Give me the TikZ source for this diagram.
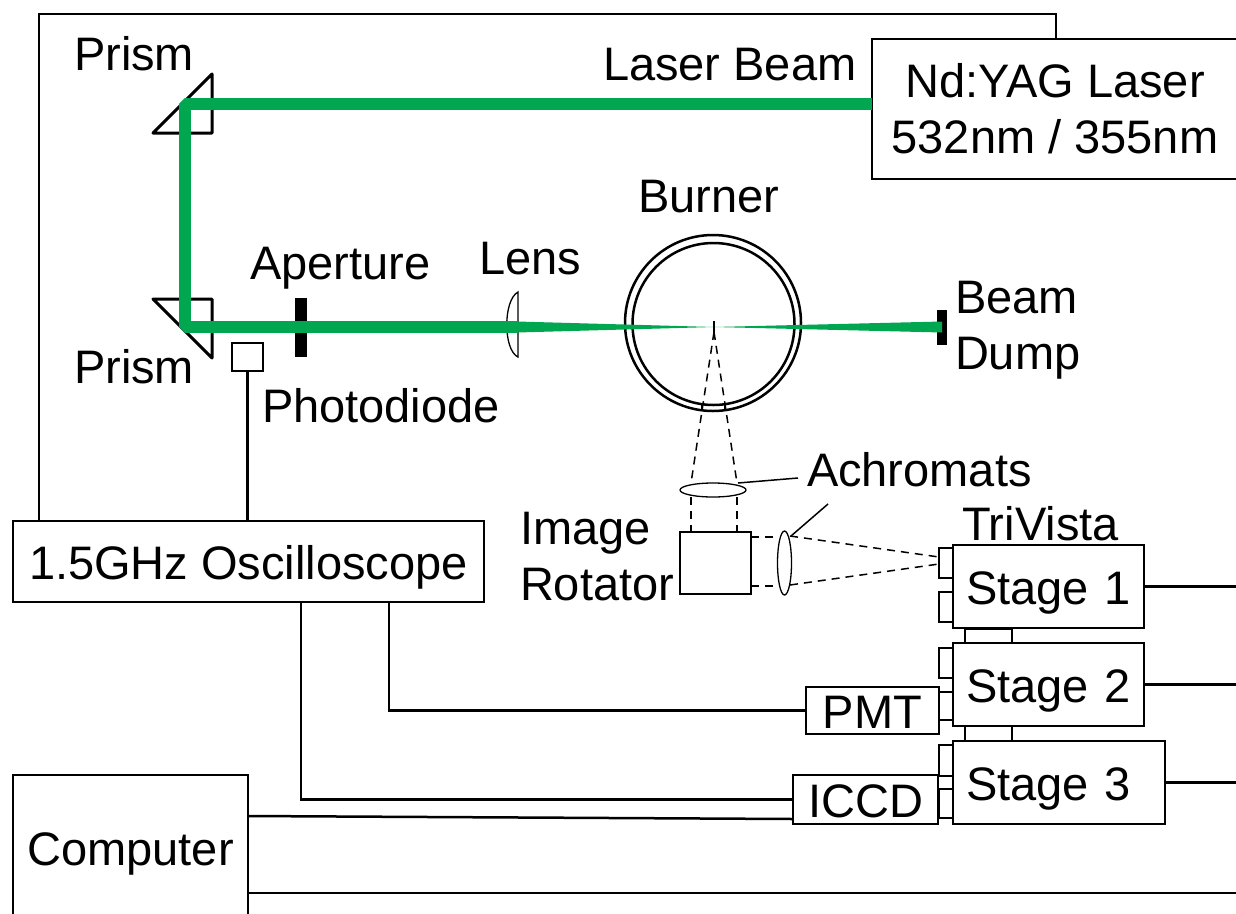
\documentclass[tikz,border=0pt]{standalone}
\usepackage{fontspec}
\setmainfont{Liberation Sans}
\usetikzlibrary{positioning}
\usetikzlibrary{shapes.geometric}
\definecolor{beamgreen}{HTML}{00A650}

\begin{document}
\begin{tikzpicture}[x=1pt, y=-1pt, every node/.style={inner sep=0pt, outer sep=0pt, font=\fontsize{47}{56}\selectfont},
    devbox/.style={draw, line width=2.5pt, rectangle},
    textbox/.style={devbox, text height=35pt, text depth=0pt},
    stagebox/.style={textbox, minimum height=83pt, align=left, text width=#1, text height=36pt},
    portbox/.style={draw, line width=2.2pt, rectangle, minimum width=14pt},
    labeltext/.style={anchor=base west},
    wire/.style={line width=2.5pt},
    prism/.style={line width=3pt, line join=round},
    thinline/.style={line width=1.3pt},
    sight/.style={line width=1.5pt, dash pattern=on 8pt off 6pt},
    bar/.style={fill=black, rectangle}]
    \useasboundingbox (0,0) rectangle (1236,913);
    
    % main boxes
    \node[textbox, minimum width=366pt, minimum height=140pt, text height=, text depth=, align=center] (laser) at (1055,109) {Nd:YAG Laser\\532nm / 355nm};
    \node[textbox, minimum width=471pt, minimum height=81pt] (scope) at (248.5,561.5) {1.5GHz Oscilloscope};
    \node[textbox, minimum width=235pt, minimum height=146pt] (computer) at (130.5,848) {Computer};
    \node[textbox, minimum width=133pt, minimum height=47pt] (pmt) at (872.5,710.5) {PMT};
    \node[textbox, minimum width=145pt, minimum height=49pt] (iccd) at (865.5,799.5) {ICCD};
    \node[devbox, minimum width=71pt, minimum height=62pt] (rotator) at (715.5,563) {};
    \node[devbox, minimum width=31pt, minimum height=28pt] (diode) at (247.5,357) {};
    
    % spectrometer stages
    \node[stagebox=191pt, anchor=north west] (stage1) at (953,545) {\hspace*{13pt}Stage 1};
    \node[stagebox=191pt, below=15pt of stage1] (stage2) {\hspace*{13pt}Stage 2};
    \node[stagebox=212pt, below=15pt of stage2.south west, anchor=north west] (stage3) {\hspace*{13pt}Stage 3};
    
    \node[portbox, minimum height=30pt, anchor=east] (port1a) at (953,563) {};
    \node[portbox, minimum height=30pt, anchor=east] (port1b) at (953,607) {};
    \node[portbox, minimum height=30pt, anchor=east] (port2a) at (953,663) {};
    \node[portbox, minimum height=28pt, anchor=east] (port2b) at (953,706) {};
    \node[portbox, minimum height=31pt, anchor=east] (port3a) at (953,760.5) {};
    \node[portbox, minimum height=29pt, anchor=east] (port3b) at (953,803.5) {};
    \node[portbox, minimum width=47pt, minimum height=14pt] (link1) at (988.5,636) {};
    \node[portbox, minimum width=47pt, minimum height=15pt] (link2) at (988.5,733.5) {};
    
    % optics
    \draw[prism] (212,74) -- (153,133) -- (212,133) -- cycle;
    \draw[prism] (153,299) -- (212,299) -- (212,358) -- cycle;
    \node[bar, minimum width=12pt, minimum height=59pt] (aperture) at (301,327.5) {};
    \node[bar, minimum width=10pt, minimum height=35pt] (dump) at (942,327.5) {};
    \draw[thinline] (518,292) .. controls (503,300) and (503,350) .. (518,357) -- cycle;
    \node[circle, draw, line width=2.5pt, minimum size=176pt] (burner) at (713,323) {};
    \node[circle, draw, line width=2.5pt, minimum size=162pt] (burnerin) at (713.5,324) {};
    \draw[thinline] (702,404) -- (702,411);
    \draw[thinline] (725,404) -- (725,411);
    \node[ellipse, draw, line width=1.3pt, minimum width=66pt, minimum height=14pt] (achromat1) at (713,490) {};
    \node[ellipse, draw, line width=1.3pt, minimum width=14pt, minimum height=64pt] (achromat2) at (784.5,563) {};
    
    % laser beam
    \coordinate (leftx) at (185,104);
    \coordinate (lower) at (185,327);
    \coordinate (focus) at (714,327);
    \draw[beamgreen, line width=11.5pt, line join=bevel] (laser.west |- leftx) -- (leftx) -- (lower) -- (518,327);
    \fill[beamgreen] (517,321.5) -- (focus) -- (517,332.5) -- cycle;
    \fill[beamgreen] (942,321.5) -- (focus) -- (942,332.5) -- cycle;
    \draw[line width=1.5pt] (714,321) -- (714,332);
    
    % collection path
    \coordinate (tip) at (714,332);
    \coordinate (achleft) at (691,483);
    \coordinate (achright) at (737,483);
    \draw[sight] (tip) -- (achleft);
    \draw[sight] (tip) -- (achright);
    \draw[sight] (691,497) -- (rotator.north -| 691,497);
    \draw[sight] (737,497) -- (rotator.north -| 737,497);
    \draw[sight] (rotator.east |- 0,537) -- (achromat2.west |- 0,537);
    \draw[sight] (rotator.east |- 0,586) -- (achromat2.west |- 0,586);
    \draw[sight] (790,536) -- (port1a.west |- 0,557);
    \draw[sight] (790,585) -- (port1a.west |- 0,564);
    
    % pointers to the achromats
    \draw[line width=1.5pt] (738,483) -- (798,478);
    \draw[line width=1.5pt] (791,536) -- (828,504);
    
    % wiring
    \coordinate (topcorner) at (1056,14);
    \coordinate (scopetop) at (39,521);
    \coordinate (iccdwire) at (301,602);
    \coordinate (pmtwire) at (389,602);
    \coordinate (compa) at (248,816);
    \coordinate (iccda) at (793,819);
    \coordinate (compb) at (248,893);
    \coordinate (edge) at (1236,0);
    \draw[wire] (scopetop) |- (topcorner) -- (laser.north -| topcorner);
    \draw[wire] (diode.south) -- (scope.north -| diode.south);
    \draw[wire] (iccdwire) |- (iccd.west);
    \draw[wire] (pmtwire) |- (pmt.west);
    \draw[wire] (compa) -- (iccda);
    \draw[wire] (compb) -- (compb -| edge);
    \draw[wire] (stage1.east) -- (stage1.east -| edge);
    \draw[wire] (stage2.east) -- (stage2.east -| edge);
    \draw[wire] (stage3.east) -- (stage3.east -| edge);
    
    % labels
    \node[labeltext] (prismtop) at (74,70) {Prism};
    \node[labeltext] (prismlow) at (74,383) {Prism};
    \node[labeltext] (beamlabel) at (603,80) {Laser Beam};
    \node[labeltext] (burnerlabel) at (638,212) {Burner};
    \node[labeltext] (aperturelabel) at (250,279) {Aperture};
    \node[labeltext] (lenslabel) at (479,274) {Lens};
    \node[labeltext] (dumpa) at (955,313) {Beam};
    \node[labeltext] (dumpb) at (955,369) {Dump};
    \node[labeltext] (diodelabel) at (262,422) {Photodiode};
    \node[labeltext] (achromatlabel) at (807,486) {Achromats};
    \node[labeltext] (rotatora) at (520,544) {Image};
    \node[labeltext] (rotatorb) at (520,600) {Rotator};
    \node[labeltext] (trivista) at (962,540) {TriVista};
\end{tikzpicture}
\end{document}
